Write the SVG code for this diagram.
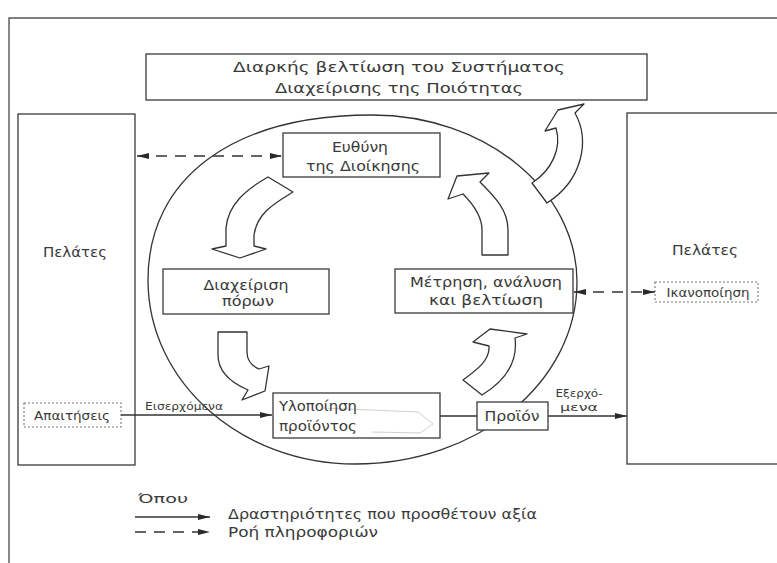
<svg xmlns="http://www.w3.org/2000/svg" width="777" height="563" viewBox="0 0 777 563">
<defs>
<marker id="ah" viewBox="0 0 12 6" refX="12" refY="3" markerWidth="12" markerHeight="6" markerUnits="userSpaceOnUse" orient="auto-start-reverse">
<path d="M0,0 L12,3 L0,6 Z" fill="#2a2a2a"/>
</marker>
<style>
.frame{fill:none;stroke:#555;stroke-width:1.4}
.box{fill:#fff;stroke:#3a3a3a;stroke-width:1.3}
.dot{fill:#fff;stroke:#777;stroke-width:1.1;stroke-dasharray:2 2}
.blk{fill:#fff;stroke:#333;stroke-width:1.3;stroke-linejoin:round}
.ln{fill:none;stroke:#333;stroke-width:1.3}
.dash{fill:none;stroke:#333;stroke-width:1.3;stroke-dasharray:11 8}
text{font-family:"DejaVu Sans","Liberation Sans",sans-serif;fill:#3a3a3a}
.t14{font-size:14.5px}
.t15{font-size:13.5px}
.t13{font-size:14px}
.t12{font-size:12px}
.t11{font-size:11px}
.c{text-anchor:middle}
</style>
</defs>
<rect width="777" height="563" fill="#fff"/>
<path class="frame" d="M9,563 L9,18 L777,18"/>

<g id="circle">
<path class="ln" d="M148,280 C148,178 233,115 372,115 C485,115 577,190 577,282 C577,382 478,464 355,464 C241,464 148,382 148,280 Z"/>
</g>

<g id="title">
<rect class="box" x="146" y="54" width="501" height="46"/>
<text class="t14 c" x="399" y="72" textLength="332" lengthAdjust="spacingAndGlyphs">Διαρκής βελτίωση του Συστήματος</text>
<text class="t14 c" x="399" y="93" textLength="248" lengthAdjust="spacingAndGlyphs">Διαχείρισης της Ποιότητας</text>
</g>

<g id="customers-left">
<rect class="box" x="18" y="114" width="117" height="351"/>
<text class="t14 c" x="75" y="257" textLength="64" lengthAdjust="spacingAndGlyphs">Πελάτες</text>
</g>

<g id="customers-right">
<rect class="box" x="627" y="113" width="160" height="351"/>
<text class="t14 c" x="705" y="255" textLength="66" lengthAdjust="spacingAndGlyphs">Πελάτες</text>
</g>

<g id="management">
<rect class="box" x="283" y="133" width="157" height="44"/>
<text class="t13 c" x="360" y="152" textLength="56" lengthAdjust="spacingAndGlyphs">Ευθύνη</text>
<text class="t13 c" x="363" y="171" textLength="114" lengthAdjust="spacingAndGlyphs">της Διοίκησης</text>
</g>

<g id="resources">
<rect class="box" x="163" y="269" width="166" height="45"/>
<text class="t13 c" x="246" y="290" textLength="85" lengthAdjust="spacingAndGlyphs">Διαχείριση</text>
<text class="t13 c" x="248" y="306" textLength="52" lengthAdjust="spacingAndGlyphs">πόρων</text>
</g>

<g id="measurement">
<rect class="box" x="395" y="269" width="178" height="44"/>
<text class="t13 c" x="486" y="287" textLength="152" lengthAdjust="spacingAndGlyphs">Μέτρηση, ανάλυση</text>
<text class="t13 c" x="486" y="305" textLength="114" lengthAdjust="spacingAndGlyphs">και βελτίωση</text>
</g>

<g id="realization">
<rect class="box" x="273" y="393" width="167" height="45"/>
<path d="M322,408 L418,412 L433,424 L420,433 L372,432" fill="none" stroke="#d0d0d0" stroke-width="1"/>
<text class="t13" x="279" y="411" textLength="78" lengthAdjust="spacingAndGlyphs">Υλοποίηση</text>
<text class="t13" x="279" y="431" textLength="78" lengthAdjust="spacingAndGlyphs">προϊόντος</text>
</g>

<g id="product">
<rect class="box" x="477" y="402" width="71" height="28"/>
<text class="t13 c" x="512" y="421" textLength="55" lengthAdjust="spacingAndGlyphs">Προϊόν</text>
</g>

<g id="requirements">
<rect class="dot" x="24" y="403" width="97" height="24"/>
<text class="t12 c" x="72" y="420" textLength="76" lengthAdjust="spacingAndGlyphs">Απαιτήσεις</text>
</g>

<g id="satisfaction">
<rect class="dot" x="655" y="282" width="103" height="20"/>
<text class="t12 c" x="708" y="297" textLength="83" lengthAdjust="spacingAndGlyphs">Ικανοποίηση</text>
</g>

<g id="connectors">
<line class="dash" x1="137" y1="156" x2="282" y2="156" marker-start="url(#ah)" marker-end="url(#ah)"/>
<line class="dash" x1="574" y1="292" x2="655" y2="292" marker-start="url(#ah)" marker-end="url(#ah)"/>
<line class="ln" x1="121" y1="415" x2="272" y2="415" marker-end="url(#ah)"/>
<line class="ln" x1="440" y1="416" x2="477" y2="416"/>
<line class="ln" x1="548" y1="416" x2="627" y2="416" marker-end="url(#ah)"/>
<path id="arrow1" class="blk" d="M268,177 L293,192 C275,203 257,213 254,235 L254,246 L266,249 L240,258 L212,249 L226,246 L226,228 C228,205 245,190 268,177 Z"/>
<path id="arrow2" class="blk" d="M218,332 L247,332 L247,352 C247,360 252,366 259,369 L269,366 L265,391 L242,400 L248,390 C234,384 218,374 218,355 Z"/>
<path id="arrow3" class="blk" d="M463,380 C478,369 490,360 489,346 L473,342 L490,329 L527,334 L515,338 C518,362 505,381 482,395 Z"/>
<path id="arrow4" class="blk" d="M482,255 L482,230 C482,215 472,203 463,194 L448,199 L457,176 L489,173 L480,182 C495,197 508,210 508,230 L508,255 Z"/>
<path id="arrow5" class="blk" d="M532,183 C552,170 562,148 556,128 L545,131 L558,110 L584,104 L575,113 C590,140 583,180 547,203 Z"/>
</g>

<g id="labels">
<text class="t11 c" x="184" y="410" textLength="78" lengthAdjust="spacingAndGlyphs">Εισερχόμενα</text>
<text class="t11 c" x="579" y="397" textLength="47" lengthAdjust="spacingAndGlyphs">Εξερχό-</text>
<text class="t11 c" x="579" y="411" textLength="38" lengthAdjust="spacingAndGlyphs">μενα</text>
</g>

<g id="legend">
<text class="t12" x="138" y="503" textLength="50" lengthAdjust="spacingAndGlyphs">Όπου</text>
<line class="ln" x1="135" y1="517" x2="210" y2="517" marker-end="url(#ah)"/>
<line class="dash" x1="135" y1="532" x2="210" y2="532" marker-end="url(#ah)"/>
<text class="t15" x="228" y="519" textLength="309" lengthAdjust="spacingAndGlyphs">Δραστηριότητες που προσθέτουν αξία</text>
<text class="t15" x="228" y="537" textLength="150" lengthAdjust="spacingAndGlyphs">Ροή πληροφοριών</text>
</g>
</svg>
